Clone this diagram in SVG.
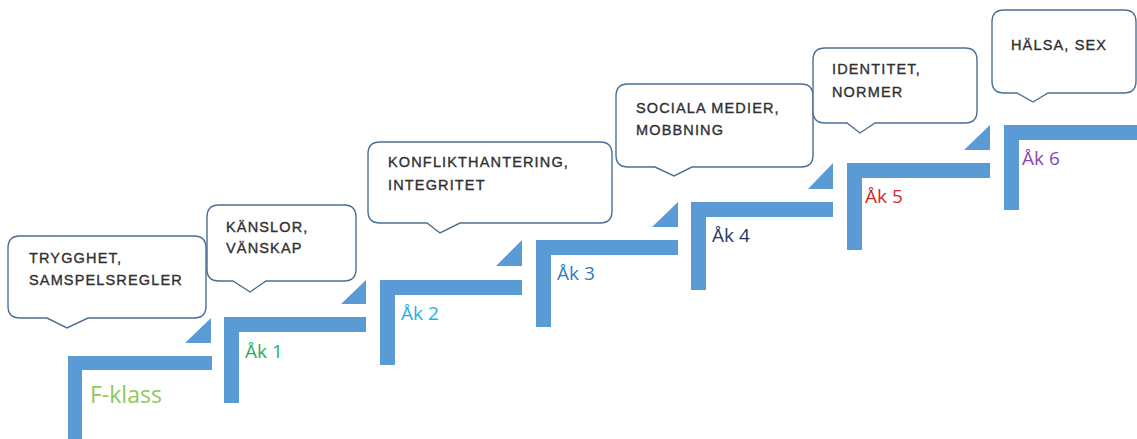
<svg xmlns="http://www.w3.org/2000/svg" width="1137" height="439" viewBox="0 0 1137 439">
<style>
.step{fill:#5B9BD5}
.bub{fill:#ffffff;stroke:#4A6F94;stroke-width:1.4}
.bt{font-family:"Liberation Sans",Arial,sans-serif;font-size:14.5px;fill:#303030;stroke:#303030;stroke-width:0.35px;letter-spacing:1.15px}
.ak{font-family:"Open Sans","Liberation Sans",sans-serif;font-size:19px}
</style>
<rect width="1137" height="439" fill="#ffffff"/>
<g id="connectors"></g>
<g id="step-f">
<path class="step" d="M68,356 H212 V370 H82 V445 H68 Z"/>
<path class="step" d="M211,318 V343 H185 Z"/>
<text class="ak" x="90" y="403" style="font-size:23px;fill:#8CC85A">F-klass</text>
</g>
<g id="step-1">
<path class="step" d="M224,317 H366 V332 H239 V403 H224 Z"/>
<path class="step" d="M366,280 V304 H341 Z"/>
<text class="ak" x="245" y="358" fill="#1FB060">Åk 1</text>
</g>
<g id="step-2">
<path class="step" d="M380,280 H522 V295 H395 V365 H380 Z"/>
<path class="step" d="M522,240 V266 H496 Z"/>
<text class="ak" x="401" y="320" fill="#1EB0E8">Åk 2</text>
</g>
<g id="step-3">
<path class="step" d="M536,240 H678 V255 H551 V327 H536 Z"/>
<path class="step" d="M678,202 V227 H652 Z"/>
<text class="ak" x="557" y="280" fill="#2F7BC4">Åk 3</text>
</g>
<g id="step-4">
<path class="step" d="M691,202 H833 V217 H706 V290 H691 Z"/>
<path class="step" d="M833,163 V189 H808 Z"/>
<text class="ak" x="712" y="242" fill="#1F3864">Åk 4</text>
</g>
<g id="step-5">
<path class="step" d="M847,163 H990 V178 H862 V250 H847 Z"/>
<path class="step" d="M990,125 V150 H964 Z"/>
<text class="ak" x="865" y="203" fill="#D02A2A">Åk 5</text>
</g>
<g id="step-6">
<path class="step" d="M1004,125 H1137 V140 H1019 V210 H1004 Z"/>
<text class="ak" x="1022" y="165" fill="#8A45B8">Åk 6</text>
</g>
<g id="bubble-1">
<path class="bub" d="M20,236 H194 Q206,236 206,248 V306 Q206,318 194,318 H88 L67,328 L47,318 H20 Q8,318 8,306 V248 Q8,236 20,236 Z"/>
<text class="bt" x="29" y="263">TRYGGHET,</text>
<text class="bt" x="29" y="285">SAMSPELSREGLER</text>
</g>
<g id="bubble-2">
<path class="bub" d="M219,205 H344 Q356,205 356,217 V269 Q356,281 344,281 H266 L250,292 L233,281 H219 Q207,281 207,269 V217 Q207,205 219,205 Z"/>
<text class="bt" x="226" y="232">KÄNSLOR,</text>
<text class="bt" x="226" y="253">VÄNSKAP</text>
</g>
<g id="bubble-3">
<path class="bub" d="M380,142 H600 Q612,142 612,154 V211 Q612,223 600,223 H460 L440,233 L427,223 H380 Q368,223 368,211 V154 Q368,142 380,142 Z"/>
<text class="bt" x="388" y="167">KONFLIKTHANTERING,</text>
<text class="bt" x="388" y="190">INTEGRITET</text>
</g>
<g id="bubble-4">
<path class="bub" d="M628,84 H801 Q813,84 813,96 V155 Q813,167 801,167 H692 L674,176 L655,167 H628 Q616,167 616,155 V96 Q616,84 628,84 Z"/>
<text class="bt" x="636" y="113">SOCIALA MEDIER,</text>
<text class="bt" x="636" y="135">MOBBNING</text>
</g>
<g id="bubble-5">
<path class="bub" d="M825,48 H965 Q977,48 977,60 V111 Q977,123 965,123 H875 L860,133 L847,123 H825 Q813,123 813,111 V60 Q813,48 825,48 Z"/>
<text class="bt" x="832" y="74">IDENTITET,</text>
<text class="bt" x="832" y="97">NORMER</text>
</g>
<g id="bubble-6">
<path class="bub" d="M1004,10 H1124 Q1136,10 1136,22 V81 Q1136,93 1124,93 H1048 L1033,102 L1017,93 H1004 Q992,93 992,81 V22 Q992,10 1004,10 Z"/>
<text class="bt" x="1011" y="50">HÄLSA, SEX</text>
</g>
</svg>
